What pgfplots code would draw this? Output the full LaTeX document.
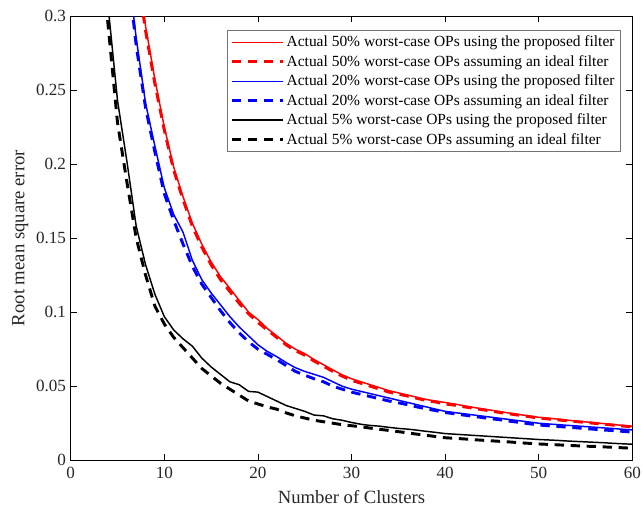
\documentclass[border=0pt]{standalone}
\usepackage{pgfplots}
\pgfplotsset{compat=1.18}
\usepackage{fontspec}
\setmainfont{Liberation Serif}
\begin{document}
\begin{tikzpicture}
\begin{axis}[
  scale only axis,
  width=421pt, height=333pt,
  xmin=0, xmax=60, ymin=0, ymax=0.3,
  xtick={0,10,...,60},
  ytick={0,0.05,0.1,0.15,0.2,0.25,0.3},
  yticklabels={0,0.05,0.1,0.15,0.2,0.25,0.3},
  tick align=inside,
  major tick length=4.5pt,
  tick style={black, line width=0.5pt},
  axis line style={black, line width=0.6pt},
  /pgf/number format/assume math mode=true,
  tick label style={font=\fontsize{12.8}{14}\selectfont, color=black!85},
  xticklabel style={yshift=-1.5pt},
  label style={font=\fontsize{14}{16}\selectfont, color=black!85},
  xlabel={Number of Clusters},
  ylabel={Root mean square error},
  xlabel style={yshift=-2pt},
  ylabel style={yshift=-1pt},
  legend style={at={(0.9786,0.968)}, anchor=north east, font=\fontsize{11.6}{13}\selectfont,
    draw=black!55, line width=0.6pt, inner sep=2pt, row sep=0.9pt, cells={anchor=west}},
  legend image code/.code={\draw[#1] (0pt,0pt) -- (38pt,0pt);},
  clip=true,
]
% red solid
\addplot[red, line width=1.1pt] coordinates {
(7.5,0.315)(8,0.293)(9,0.257)(10,0.225)(11,0.198)(12,0.178)(13,0.160)(14,0.146)(15,0.134)(16,0.124)(17,0.116)(18,0.108)(19,0.100)(20,0.095)
(21,0.089)(22,0.084)(23,0.079)(24,0.075)(25,0.072)(26,0.068)(27,0.0645)(28,0.061)(29,0.0577)(30,0.055)
(31,0.053)(32,0.051)(33,0.049)(34,0.047)(35,0.0455)(36,0.044)(37,0.0425)(38,0.041)(39,0.040)(40,0.039)
(41,0.038)(42,0.0368)(43,0.0357)(44,0.0347)(45,0.0337)(46,0.0327)(47,0.0317)(48,0.0308)(49,0.0299)(50,0.029)
(51,0.0284)(52,0.0278)(53,0.0271)(54,0.0265)(55,0.0259)(56,0.0253)(57,0.0247)(58,0.0241)(59,0.0235)(60,0.023)};
\addlegendentry{Actual 50\% worst-case OPs using the proposed filter}
% red dashed
\addplot[red, line width=2.2pt, dash pattern=on 7pt off 5pt] coordinates {
(7.5,0.312)(8,0.290)(9,0.254)(10,0.223)(11,0.196)(12,0.176)(13,0.158)(14,0.144)(15,0.132)(16,0.122)(17,0.114)(18,0.106)(19,0.099)(20,0.093)
(21,0.088)(22,0.083)(23,0.078)(24,0.074)(25,0.071)(26,0.067)(27,0.0635)(28,0.060)(29,0.0568)(30,0.054)
(31,0.052)(32,0.050)(33,0.048)(34,0.046)(35,0.0447)(36,0.0433)(37,0.0418)(38,0.0403)(39,0.0393)(40,0.038)
(41,0.0372)(42,0.0361)(43,0.0351)(44,0.0341)(45,0.0331)(46,0.0321)(47,0.0312)(48,0.0303)(49,0.0294)(50,0.0285)
(51,0.0279)(52,0.0273)(53,0.0267)(54,0.0261)(55,0.0255)(56,0.0249)(57,0.0243)(58,0.0237)(59,0.0231)(60,0.0225)};
\addlegendentry{Actual 50\% worst-case OPs assuming an ideal filter}
% blue solid
\addplot[blue, line width=1.1pt] coordinates {
(6.5,0.312)(7,0.285)(8,0.241)(9,0.212)(10,0.184)(11,0.166)(12,0.154)(13,0.135)(14,0.122)(15,0.113)(16,0.105)(17,0.097)(18,0.090)(19,0.084)(20,0.078)
(21,0.0735)(22,0.070)(23,0.066)(24,0.0625)(25,0.060)(26,0.058)(27,0.056)(28,0.053)(29,0.050)(30,0.048)
(31,0.0465)(32,0.045)(33,0.0435)(34,0.042)(35,0.0405)(36,0.039)(37,0.0375)(38,0.036)(39,0.0345)(40,0.033)
(41,0.0322)(42,0.0314)(43,0.0306)(44,0.0298)(45,0.029)(46,0.0282)(47,0.0274)(48,0.0266)(49,0.0258)(50,0.025)
(51,0.0245)(52,0.0241)(53,0.0236)(54,0.0232)(55,0.0227)(56,0.0223)(57,0.0218)(58,0.0214)(59,0.0209)(60,0.0205)};
\addlegendentry{Actual 20\% worst-case OPs using the proposed filter}
% blue dashed
\addplot[blue, line width=2.2pt, dash pattern=on 7pt off 5pt] coordinates {
(6.5,0.308)(7,0.280)(8,0.238)(9,0.208)(10,0.180)(11,0.162)(12,0.146)(13,0.131)(14,0.119)(15,0.110)(16,0.101)(17,0.093)(18,0.086)(19,0.080)(20,0.075)
(21,0.0715)(22,0.068)(23,0.064)(24,0.060)(25,0.0575)(26,0.055)(27,0.053)(28,0.050)(29,0.048)(30,0.046)
(31,0.0445)(32,0.043)(33,0.0415)(34,0.040)(35,0.0388)(36,0.0375)(37,0.036)(38,0.0347)(39,0.0335)(40,0.0322)
(41,0.0314)(42,0.0305)(43,0.0297)(44,0.0288)(45,0.028)(46,0.0272)(47,0.0263)(48,0.0255)(49,0.0246)(50,0.0238)
(51,0.0233)(52,0.0228)(53,0.0224)(54,0.0219)(55,0.0214)(56,0.0209)(57,0.0204)(58,0.020)(59,0.0195)(60,0.019)};
\addlegendentry{Actual 20\% worst-case OPs assuming an ideal filter}
% black solid
\addplot[black, line width=1.1pt] coordinates {
(4,0.308)(4.1,0.30)(5,0.243)(6,0.202)(7,0.158)(8,0.132)(9,0.112)(10,0.097)(11,0.088)(12,0.082)(13,0.077)(14,0.069)(15,0.063)(16,0.058)(17,0.053)(18,0.051)(19,0.0465)(20,0.046)
(21,0.043)(22,0.040)(23,0.037)(24,0.035)(25,0.033)(26,0.0305)(27,0.030)(28,0.028)(29,0.027)(30,0.0255)
(31,0.0243)(32,0.0235)(33,0.023)(34,0.0222)(35,0.0215)(36,0.021)(37,0.0203)(38,0.0195)(39,0.0188)(40,0.018)
(41,0.0176)(42,0.0172)(43,0.0168)(44,0.0164)(45,0.016)(46,0.0156)(47,0.0152)(48,0.0148)(49,0.0144)(50,0.014)
(51,0.0137)(52,0.0134)(53,0.013)(54,0.0127)(55,0.0124)(56,0.0121)(57,0.0118)(58,0.0114)(59,0.0111)(60,0.0108)};
\addlegendentry{Actual 5\% worst-case OPs using the proposed filter}
% black dashed
\addplot[black, line width=2.2pt, dash pattern=on 7pt off 5pt] coordinates {
(3.8,0.308)(3.9,0.30)(5,0.228)(6,0.188)(7,0.150)(8,0.125)(9,0.104)(10,0.092)(11,0.083)(12,0.076)(13,0.069)(14,0.062)(15,0.057)(16,0.052)(17,0.048)(18,0.044)(19,0.040)(20,0.038)
(21,0.036)(22,0.0345)(23,0.032)(24,0.030)(25,0.0285)(26,0.027)(27,0.026)(28,0.025)(29,0.024)(30,0.0233)
(31,0.0226)(32,0.0217)(33,0.0209)(34,0.0201)(35,0.0193)(36,0.0185)(37,0.0176)(38,0.0168)(39,0.016)(40,0.0152)
(41,0.0148)(42,0.0144)(43,0.0139)(44,0.0135)(45,0.0131)(46,0.0127)(47,0.0123)(48,0.0118)(49,0.0114)(50,0.011)
(51,0.0107)(52,0.0104)(53,0.0101)(54,0.0098)(55,0.0095)(56,0.0093)(57,0.009)(58,0.0087)(59,0.0084)(60,0.0081)};
\addlegendentry{Actual 5\% worst-case OPs assuming an ideal filter}
\end{axis}
\pgfresetboundingbox
\path ([shift={(-53pt,-37.5pt)}]current axis.south west) rectangle ([shift={(8pt,12pt)}]current axis.north east);
\end{tikzpicture}
\end{document}
